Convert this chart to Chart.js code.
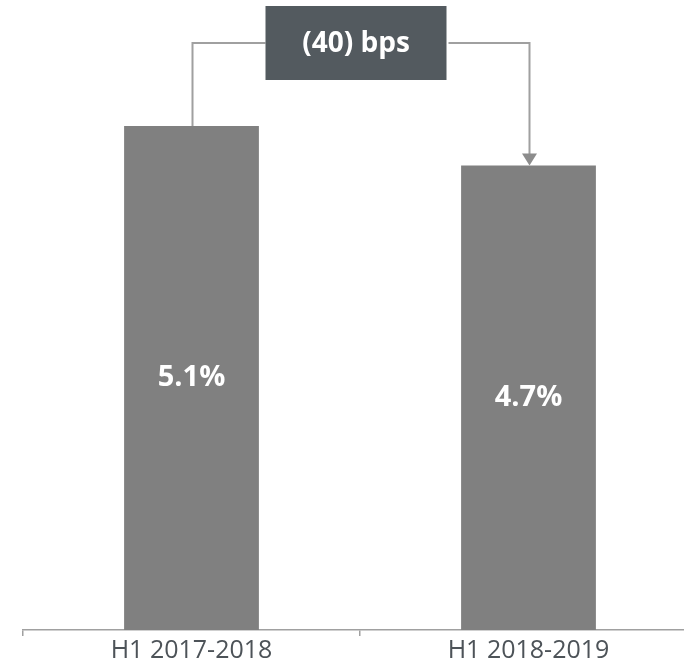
<!DOCTYPE html>
<html>
<head>
<meta charset="utf-8">
<script src="https://cdn.jsdelivr.net/npm/chart.js@4/dist/chart.umd.min.js"></script>
<style>
    html, body { margin: 0; padding: 0; overflow: hidden; background: #fff; }
    #wrap { width: 684px; height: 662px; overflow: hidden; }
</style>
</head>
<body>
<div id="wrap">
    <canvas id="myChart" width="697" height="662"></canvas>
</div>
<script>
// data
var periods = ['H1 2017-2018', 'H1 2018-2019'];
var rates = [5.1, 4.7];
var rateLabels = ['5.1%', '4.7%'];
var changeLabel = '(40) bps';

// nhãn giá trị ở giữa cột
var barLabels = {
    id: 'barLabels',
    afterDatasetsDraw: function (chart) {
        var ctx = chart.ctx;
        var bars = chart.getDatasetMeta(0).data;
        ctx.save();
        ctx.fillStyle = '#ffffff';
        ctx.font = 'bold 29px "Open Sans"';
        ctx.textAlign = 'center';
        ctx.textBaseline = 'middle';
        bars.forEach(function (bar, i) {
            ctx.fillText(rateLabels[i], bar.x, (bar.y + bar.base) / 2);
        });
        ctx.restore();
    }
};

// hộp chênh lệch + đường nối + mũi tên
var changeBox = {
    id: 'changeBox',
    afterDraw: function (chart) {
        var ctx = chart.ctx;
        var bars = chart.getDatasetMeta(0).data;
        var a = bars[0], b = bars[1];
        var boxW = 181, boxH = 74, boxTop = 6;
        var cx = (a.x + b.x) / 2 - 4;
        var lineY = boxTop + boxH / 2;

        ctx.save();
        ctx.strokeStyle = '#a0a0a0';
        ctx.lineWidth = 2;
        ctx.beginPath();
        ctx.moveTo(a.x + 1, a.y);
        ctx.lineTo(a.x + 1, lineY);
        ctx.lineTo(cx - boxW / 2, lineY);
        ctx.moveTo(cx + boxW / 2 + 2, lineY);
        ctx.lineTo(b.x + 1, lineY);
        ctx.lineTo(b.x + 1, b.y - 10);
        ctx.stroke();

        ctx.fillStyle = '#8c8c8c';
        ctx.beginPath();
        ctx.moveTo(b.x - 6.5, b.y - 12);
        ctx.lineTo(b.x + 8.5, b.y - 12);
        ctx.lineTo(b.x + 1, b.y);
        ctx.closePath();
        ctx.fill();

        ctx.fillStyle = '#535a5f';
        ctx.fillRect(cx - boxW / 2, boxTop, boxW, boxH);
        ctx.fillStyle = '#ffffff';
        ctx.font = 'bold 28px "Open Sans"';
        ctx.textAlign = 'center';
        ctx.textBaseline = 'middle';
        ctx.fillText(changeLabel, cx, lineY + 1);
        ctx.restore();
    }
};

var ctx = document.getElementById('myChart').getContext('2d');
var myChart = new Chart(ctx, {
    type: 'bar',
    data: {
        labels: periods,
        datasets: [{
            data: rates,
            backgroundColor: '#808080',
            barPercentage: 0.4,
            categoryPercentage: 1.0
        }]
    },
    options: {
        responsive: false,
        animation: false,
        events: [],
        layout: { padding: { left: 23, right: 0, top: 0, bottom: 0 } },
        plugins: {
            legend: { display: false },
            tooltip: { enabled: false }
        },
        scales: {
            x: {
                offset: true,
                afterFit: function (scale) { scale.height = 32; },
                border: { display: true, color: '#a0a0a0', width: 1.5 },
                grid: {
                    offset: true,
                    drawOnChartArea: false,
                    drawTicks: true,
                    tickLength: 6,
                    color: '#a0a0a0',
                    lineWidth: 1.5
                },
                ticks: {
                    color: '#4d5358',
                    padding: 0,
                    font: { family: '"Open Sans"', size: 25 }
                }
            },
            y: {
                display: false,
                min: 0,
                max: 6.376
            }
        }
    },
    plugins: [barLabels, changeBox]
});
</script>
</body>
</html>
